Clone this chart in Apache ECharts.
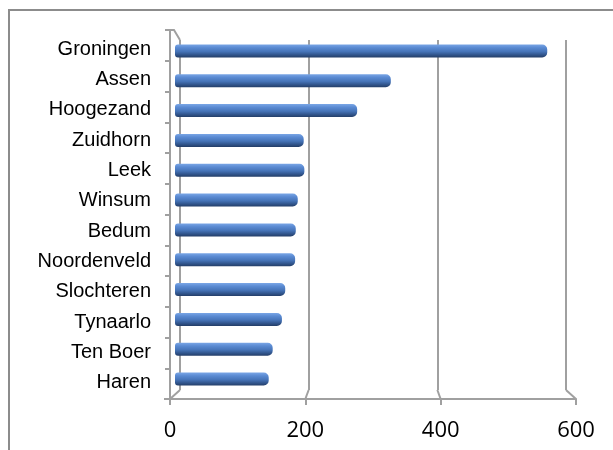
<!DOCTYPE html>
<html>
<head>
<meta charset="utf-8">
<script src="https://cdn.jsdelivr.net/npm/echarts@6/dist/echarts.min.js"></script>
<style>
html,body{margin:0;padding:0;background:#fff;}
#c{width:613px;height:450px;}
</style>
</head>
<body>
<div id="c"></div>
<script>
var categories = ['Groningen','Assen','Hoogezand','Zuidhorn','Leek','Winsum','Bedum','Noordenveld','Slochteren','Tynaarlo','Ten Boer','Haren'];
var values = [564, 327, 276, 195, 196, 186, 183, 182, 167, 162, 148, 142];
var xTicks = [0, 200, 400, 600];

var W = 613, H = 450;
var back = {left:180, right:47, top:40, bottom:60};
var front = {left:170, right:37, top:30, bottom:51};
var bars = {left:175, right:42, top:36, bottom:56};
var labs = {left:170, right:37, top:34, bottom:52};
var gridColor = '#a0a0a0';

var chart = echarts.init(document.getElementById('c'), null, {renderer:'canvas'});
var hidden = {show:false};
var option = {
  animation:false,
  backgroundColor:'#fff',
  grid:[
    Object.assign({}, back),
    Object.assign({}, front),
    Object.assign({}, bars),
    Object.assign({}, labs)
  ],
  xAxis:[
    {gridIndex:0, type:'value', min:0, max:600, interval:200,
     axisLine:hidden, axisTick:hidden, axisLabel:hidden,
     splitLine:{show:true, lineStyle:{color:gridColor, width:2}}},
    {gridIndex:1, type:'value', min:0, max:600, interval:200, position:'bottom',
     axisLine:{show:true, onZero:false, lineStyle:{color:gridColor, width:2}},
     axisTick:{show:true, length:6, lineStyle:{color:gridColor, width:2}},
     axisLabel:{show:true, color:'#000', fontFamily:'Open Sans', fontSize:22, margin:21},
     splitLine:hidden},
    {gridIndex:2, type:'value', min:0, max:600, show:false},
    {gridIndex:3, type:'value', min:0, max:600, show:false}
  ],
  yAxis:[
    {gridIndex:0, type:'category', data:categories, inverse:true, show:false},
    {gridIndex:1, type:'category', data:categories, inverse:true,
     axisLine:{show:true, onZero:false, lineStyle:{color:gridColor, width:2}},
     axisTick:{show:true, length:5, lineStyle:{color:gridColor, width:2}},
     axisLabel:hidden, splitLine:hidden},
    {gridIndex:2, type:'category', data:categories, inverse:true, show:false},
    {gridIndex:3, type:'category', data:categories, inverse:true,
     axisLine:hidden, axisTick:hidden, splitLine:hidden,
     axisLabel:{show:true, color:'#000', fontFamily:'Liberation Sans', fontSize:20, margin:19}}
  ],
  series:[{
    type:'bar', xAxisIndex:2, yAxisIndex:2, data:values, barWidth:13,
    itemStyle:{
      borderRadius:[3,5,5,3],
      color:new echarts.graphic.LinearGradient(0,0,0,1,[
        {offset:0, color:'#7aa6e6'},
        {offset:0.25, color:'#5a8ad2'},
        {offset:0.55, color:'#4674b8'},
        {offset:0.8, color:'#31558c'},
        {offset:1, color:'#243e68'}
      ])
    }
  }]
};
chart.setOption(option);

var g = [];
var frontTopY = front.top, backTopY = back.top;
var frontBotY = H - front.bottom, backBotY = H - back.bottom;
var xf0 = chart.convertToPixel({xAxisIndex:1}, 0);
var xb0 = chart.convertToPixel({xAxisIndex:0}, 0);
var xf600 = chart.convertToPixel({xAxisIndex:1}, 600);
xTicks.forEach(function(v){
  var xb = chart.convertToPixel({xAxisIndex:0}, v);
  var xf = chart.convertToPixel({xAxisIndex:1}, v);
  g.push({type:'line', shape:{x1:xb, y1:backBotY, x2:xf, y2:frontBotY},
          style:{stroke:gridColor, lineWidth:2}, silent:true, z:10});
});
g.push({type:'polyline', shape:{points:[[xf0, frontTopY],[xf0+4, frontTopY],[xb0, backTopY]]},
        style:{stroke:gridColor, lineWidth:2, fill:null}, silent:true, z:10});
// front axes drawn explicitly
g.push({type:'line', shape:{x1:xf0-6, y1:frontBotY, x2:xf600, y2:frontBotY},
        style:{stroke:gridColor, lineWidth:2}, silent:true, z:10});
g.push({type:'line', shape:{x1:xf0, y1:frontTopY, x2:xf0, y2:frontBotY},
        style:{stroke:gridColor, lineWidth:2}, silent:true, z:10});
g.push({type:'rect', shape:{x:9, y:10, width:W+10, height:H+10},
        style:{stroke:'#8c8c8c', lineWidth:2, fill:null}, silent:true, z:-1});
chart.setOption({graphic:g});
</script>
</body>
</html>
